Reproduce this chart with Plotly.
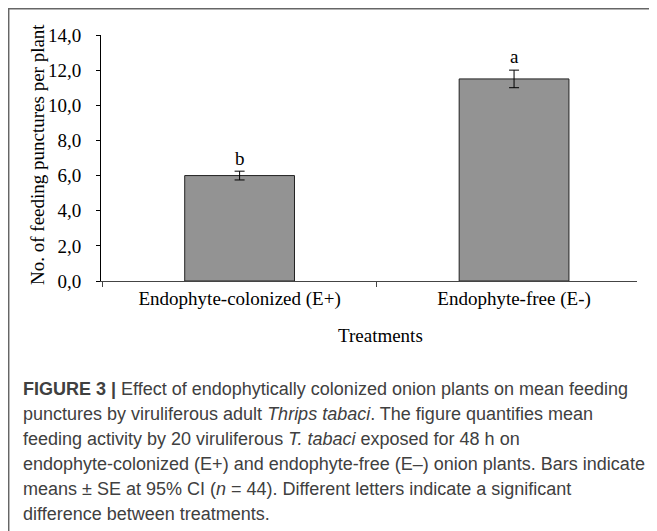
import plotly.graph_objects as go

categories = ["Endophyte-colonized (E+)", "Endophyte-free (E-)"]
means = [6.0, 11.5]
se = [0.25, 0.5]
letters = ["b", "a"]
letter_y = [6.95, 12.75]
ytick_vals = [0, 2, 4, 6, 8, 10, 12, 14]
ytick_text = ["0,0", "2,0", "4,0", "6,0", "8,0", "10,0", "12,0", "14,0"]
caption_lines = [
    "<b>FIGURE 3 |</b> Effect of endophytically colonized onion plants on mean feeding",
    "punctures by viruliferous adult <i>Thrips tabaci</i>. The figure quantifies mean",
    "feeding activity by 20 viruliferous <i>T. tabaci</i> exposed for 48 h on",
    "endophyte-colonized (E+) and endophyte-free (E\u2013) onion plants. Bars indicate",
    "means \u00b1 SE at 95% CI (<i>n</i> = 44). Different letters indicate a significant",
    "difference between treatments.",
]

OFF = 8  # page body margin
W, H = 649, 523
L, R, T, B = 93, 20, 27, 250
pw, ph = W - L - R, H - T - B

def px_x(x):  # page x -> paper
    return (x - OFF - L) / pw

def px_y(y):  # page y -> paper
    return 1 - (y - OFF - T) / ph

serif = "Liberation Serif, Times New Roman, serif"
sans = "Liberation Sans, Arial, sans-serif"
FS = 19

fig = go.Figure()
fig.add_trace(go.Bar(
    x=categories, y=means, width=0.4,
    marker=dict(color="#939393", line=dict(color="#222222", width=1)),
    error_y=dict(type="data", array=se, visible=True, color="#000000", thickness=1, width=5),
    showlegend=False,
))

for c, l, ly in zip(categories, letters, letter_y):
    fig.add_annotation(x=c, y=ly, text=l, showarrow=False, xref="x", yref="y",
                       font=dict(family=serif, size=FS, color="#000"), yanchor="middle")

fig.add_annotation(x=px_x(37), y=px_y(155), xref="paper", yref="paper", text="No. of feeding punctures per plant",
                   textangle=-90, showarrow=False, font=dict(family=serif, size=FS, color="#000"),
                   xanchor="center", yanchor="middle")
fig.add_annotation(x=px_x(380), y=px_y(335), xref="paper", yref="paper", text="Treatments",
                   showarrow=False, font=dict(family=serif, size=FS, color="#000"),
                   xanchor="center", yanchor="middle")

cap_y = [389, 414, 439, 464, 489, 514]
for line, cy in zip(caption_lines, cap_y):
    fig.add_annotation(x=px_x(21), y=px_y(cy), xref="paper", yref="paper", text=line,
                       showarrow=False, font=dict(family=sans, size=18, color="#404040"),
                       xanchor="left", yanchor="middle", align="left")

# figure frame (top and left edges)
fig.add_shape(type="line", xref="paper", yref="paper", x0=px_x(8), x1=px_x(700), y0=px_y(8.7), y1=px_y(8.7),
              line=dict(color="#666666", width=1.5))
fig.add_shape(type="line", xref="paper", yref="paper", x0=px_x(8.7), x1=px_x(8.7), y0=px_y(8), y1=px_y(600),
              line=dict(color="#666666", width=1.5))

fig.update_layout(
    width=W, height=H,
    margin=dict(l=L, r=R, t=T, b=B),
    plot_bgcolor="white", paper_bgcolor="white",
    xaxis=dict(type="category", range=[-0.505, 1.448], showline=True, linecolor="#444444", linewidth=1,
               ticks="outside", tickson="boundaries", ticklen=5, tickcolor="#444444",
               tickfont=dict(family=serif, size=FS, color="#000"), showgrid=False),
    yaxis=dict(range=[0, 14], tickvals=ytick_vals, ticktext=ytick_text, showline=True, linecolor="#000",
               linewidth=1, ticks="outside", ticklen=4, tickcolor="#000", showgrid=False, zeroline=False,
               ticklabelstandoff=11,
               tickfont=dict(family=serif, size=FS, color="#000")),
)

fig.write_html("out.html")
